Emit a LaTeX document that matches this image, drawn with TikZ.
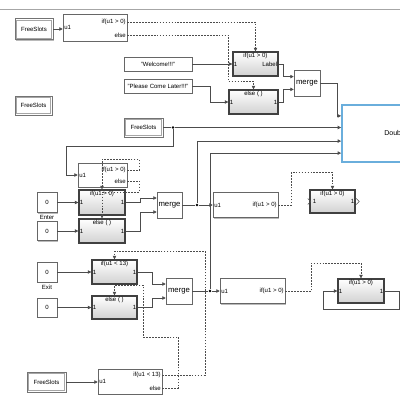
\documentclass[tikz,border=0pt]{standalone}
\usepackage{fontspec}
\setmainfont{Liberation Sans}
\usetikzlibrary{arrows.meta,shadows}
\definecolor{simblue}{HTML}{6AAEDC}
\tikzset{
  blk/.style={draw=black!60, fill=white, line width=0.4pt, inner sep=0.6pt,
    font=\fontsize{4.3}{5}\selectfont,
    drop shadow={shadow xshift=0.35mm, shadow yshift=-0.35mm, fill=black!45, opacity=0.6}},
  goto/.style={blk, draw=black!55, line width=0.4pt},
  act/.style={draw=black!75, line width=1pt, top color=white, bottom color=black!18, inner sep=0pt},
  mrg/.style={font=\fontsize{5.5}{6}\selectfont},
  lbl/.style={font=\fontsize{4.3}{5}\selectfont, inner sep=0.9pt},
  dot/.style={circle, fill=black, inner sep=0pt, minimum size=0.7mm},
  wire/.style={draw=black!70, line width=0.45pt},
  signal/.style={wire, -{Triangle[length=2.4pt,width=2.4pt]}},
  control/.style={draw=black!70, line width=0.35pt, dash pattern=on 1.2pt off 0.9pt,
    -{Triangle[length=2.4pt,width=2.4pt]}}
}
\begin{document}
\begin{tikzpicture}[x=0.25mm, y=-0.25mm]
  \useasboundingbox (0,0) rectangle (400,400);
  \clip (0,0) rectangle (400,400);
  \draw[black!35, line width=0.6pt] (0,9) -- (400,9);
  % top part
  \node[goto, minimum width=9.5mm, minimum height=5.25mm] (fs1) at (34,29) {FreeSlots};
  \node[blk, minimum width=16mm, minimum height=6.75mm] (if1) at (95,27.5) {};
  \node[lbl, anchor=west] (if1u) at (if1.west) {u1};
  \node[lbl, anchor=east] (if1a) at ([yshift=1.4mm]if1.east) {if(u1 > 0)};
  \node[lbl, anchor=east] (if1b) at ([yshift=-1.9mm]if1.east) {else};
  \node[blk, minimum width=17mm, minimum height=3.5mm] (wel) at (158,64) {"Welcome!!!"};
  \node[blk, minimum width=17mm, minimum height=3.5mm] (pls) at (158,86) {"Please Come Later!!!"};
  \node[act, minimum width=11.25mm, minimum height=6mm] (act1) at (255.5,64) {};
  \node[lbl, below] (act1t) at (act1.north) {if(u1 > 0)};
  \node[lbl, anchor=west] (act1i) at (act1.west) {1};
  \node[lbl, anchor=east] (act1o) at (act1.east) {Label};
  \node[act, minimum width=12.25mm, minimum height=6mm] (else1) at (253.5,102) {};
  \node[lbl, below] (else1t) at (else1.north) {else ( )};
  \node[lbl, anchor=west] (else1i) at (else1.west) {1};
  \node[lbl, anchor=east] (else1o) at (else1.east) {1};
  \node[blk, mrg, minimum width=6.5mm, minimum height=6.5mm] (mrg1) at (307,83) {merge};
  \node[draw=simblue, line width=1.3pt, fill=white, minimum width=30mm, minimum height=14.25mm] (big) at (402,133.5) {};
  \node[font=\fontsize{5}{6}\selectfont, anchor=west, inner sep=0pt] (bigt) at (384,133) {Doub};
  \node[goto, minimum width=9.25mm, minimum height=4.75mm] (fs2) at (33.5,105.5) {FreeSlots};
  \node[goto, minimum width=9.75mm, minimum height=4.75mm] (fs3) at (143.5,127.5) {FreeSlots};
  \node[dot] (j1) at (173,127.5) {};
  % enter part
  \node[blk, minimum width=12.25mm, minimum height=6mm] (if2) at (102.5,175) {};
  \node[lbl, anchor=west] (if2u) at (if2.west) {u1};
  \node[lbl, anchor=east] (if2a) at ([yshift=1.25mm]if2.east) {if(u1 > 0)};
  \node[lbl, anchor=east] (if2b) at ([yshift=-1.5mm]if2.east) {else};
  \node[act, minimum width=11.5mm, minimum height=6.25mm] (act2) at (102,202.5) {};
  \node[lbl, below] (act2t) at (act2.north) {if(u1 > 0)};
  \node[lbl, anchor=west] (act2i) at (act2.west) {1};
  \node[lbl, anchor=east] (act2o) at (act2.east) {1};
  \node[act, minimum width=11.5mm, minimum height=6mm] (else2) at (102,231) {};
  \node[lbl, below] (else2t) at (else2.north) {else ( )};
  \node[lbl, anchor=west] (else2i) at (else2.west) {1};
  \node[lbl, anchor=east] (else2o) at (else2.east) {1};
  \node[blk, minimum width=5mm, minimum height=5mm] (c1) at (47,202.5) {0};
  \node[lbl] (enter) at (47,217) {Enter};
  \node[blk, minimum width=5mm, minimum height=4.75mm] (c2) at (47,231) {0};
  \node[blk, mrg, minimum width=6.25mm, minimum height=6.5mm] (mrg2) at (169.5,205) {merge};
  \node[dot] (j2) at (197,205) {};
  \node[blk, minimum width=16.25mm, minimum height=6.25mm] (if3) at (245.5,205) {};
  \node[lbl, anchor=west] (if3u) at (if3.west) {u1};
  \node[lbl, anchor=east] (if3a) at (if3.east) {if(u1 > 0)};
  \node[act, minimum width=11.25mm, minimum height=5.75mm] (act3) at (332.5,201.5) {};
  \node[lbl, below] (act3t) at (act3.north) {if(u1 > 0)};
  \node[lbl, anchor=west] (act3i) at ([xshift=0.5mm]act3.west) {1};
  \node[lbl, anchor=east] (act3o) at (act3.east) {1};
  % exit part
  \node[blk, minimum width=5mm, minimum height=5mm] (c3) at (47,272) {0};
  \node[lbl] (exit) at (47,287) {Exit};
  \node[blk, minimum width=5mm, minimum height=4.75mm] (c4) at (47,307.5) {0};
  \node[act, minimum width=11.25mm, minimum height=6mm] (act4) at (114.5,272) {};
  \node[lbl, below] (act4t) at (act4.north) {if(u1 < 13)};
  \node[lbl, anchor=west] (act4i) at (act4.west) {1};
  \node[lbl, anchor=east] (act4o) at (act4.east) {1};
  \node[act, minimum width=11.25mm, minimum height=5.75mm] (else4) at (114.5,307.5) {};
  \node[lbl, below] (else4t) at (else4.north) {else ( )};
  \node[lbl, anchor=west] (else4i) at (else4.west) {1};
  \node[lbl, anchor=east] (else4o) at (else4.east) {1};
  \node[blk, mrg, minimum width=6.5mm, minimum height=6.5mm] (mrg4) at (179,291) {merge};
  \node[dot] (j4) at (210,291) {};
  \node[blk, minimum width=16.25mm, minimum height=6.25mm] (if4) at (252.5,291) {};
  \node[lbl, anchor=west] (if4u) at (if4.west) {u1};
  \node[lbl, anchor=east] (if4a) at (if4.east) {if(u1 > 0)};
  \node[act, minimum width=11.5mm, minimum height=6mm] (act5) at (361,291) {};
  \node[lbl, below] (act5t) at (act5.north) {if(u1 > 0)};
  \node[lbl, anchor=west] (act5i) at (act5.west) {1};
  \node[lbl, anchor=east] (act5o) at (act5.east) {1};
  \node[goto, minimum width=9.75mm, minimum height=5mm] (fs4) at (46.5,382) {FreeSlots};
  \node[blk, minimum width=16mm, minimum height=6.25mm] (if5) at (130,381.5) {};
  \node[lbl, anchor=west] (if5u) at (if5.west) {u1};
  \node[lbl, anchor=east] (if5a) at ([yshift=1.6mm]if5.east) {if(u1 < 13)};
  \node[lbl, anchor=east] (if5b) at ([yshift=-1.6mm]if5.east) {else};
  % inner frames of the FreeSlots blocks
  \foreach \n in {fs1,fs2,fs3,fs4}
    \draw[black!35, line width=0.3pt] ([shift={(1.6,1.6)}]\n.north west) rectangle ([shift={(-1.6,-1.6)}]\n.south east);
  % open ports
  \draw[black!70, line width=0.4pt] ([shift={(-1.5,-3)}]act3.west) -- ++(3,3) -- ++(-3,3);
  \draw[black!70, line width=0.4pt] ([shift={(0.5,-3)}]act3.east) -- ++(3,3) -- ++(-3,3);
  \begin{scope}[signal]
    \draw (fs1.east) -- (fs1.east -| if1.west);
    \draw (wel.east) -- (wel.east -| act1.west);
    \draw (pls.east) -- ++(18,0) |- (else1.west);
    \draw (act1.east) -- ++(5,0) |- ([yshift=1.6mm]mrg1.west);
    \draw (else1.east) -- ++(5,0) |- ([yshift=-1.6mm]mrg1.west);
    \draw (mrg1.east) -- ++(17,0) |- ([yshift=4.4mm]big.west);
    \draw[-] (fs3.east) -- (j1);
    \draw (j1) -- (big.west |- j1);
    \draw (j1) -- ++(0,19) -| ([xshift=-2.75mm]if2.west) -- (if2.west);
    \draw (c1.east) -- (c1.east -| act2.west);
    \draw (c2.east) -- (c2.east -| else2.west);
    \draw (act2.east) -- ++(15,0) |- ([yshift=1.75mm]mrg2.west);
    \draw (else2.east) -- ++(15,0) |- ([yshift=-1.75mm]mrg2.west);
    \draw[-] (mrg2.east) -- (j2);
    \draw (j2) -- (if3.west);
    \draw (j2) |- ([yshift=-1.9mm]big.west);
    \draw (c3.east) -- (c3.east -| act4.west);
    \draw (c4.east) -- (c4.east -| else4.west);
    \draw (act4.east) -- ++(15,0) |- ([yshift=1.75mm]mrg4.west);
    \draw (else4.east) -- ++(15,0) |- ([yshift=-1.75mm]mrg4.west);
    \draw[-] (mrg4.east) -- (j4);
    \draw (j4) -- (if4.west);
    \draw (j4) |- ([yshift=-4.9mm]big.west);
    \draw (act5.east) -- ++(15,0) -- ++(0,18) -| ([xshift=-3.5mm]act5.west) -- (act5.west);
    \draw (fs4.east) -- (fs4.east -| if5.west);
  \end{scope}
  \begin{scope}[control]
    \draw (if1.east |- if1a) -| (act1.north);
    \draw (if1.east |- if1b) -| ([yshift=2mm]else1.north west) -| (else1.north);
    \draw (if2.east |- if2a) -- ++(12,0) |- ([yshift=7.5mm]act2.north) -- (act2.north);
    \draw (if2.east |- if2b) -- ++(12,0) |- ([yshift=6.5mm]else2.north) -- (else2.north);
    \draw (if3.east) -- ++(13,0) |- ([yshift=4.25mm]act3.north) -- (act3.north);
    \draw (if4.east) -- ++(26,0) |- ([yshift=3.75mm]act5.north) -- (act5.north);
    \draw (if5.east |- if5a) -- ++(43,0) |- ([yshift=2mm]act4.north) -- (act4.north);
    \draw (if5.east |- if5b) -- ++(16,0) -- ++(0,-51) -- ++(-35,0) |- ([yshift=2.5mm]else4.north) -- (else4.north);
  \end{scope}
\end{tikzpicture}
\end{document}
